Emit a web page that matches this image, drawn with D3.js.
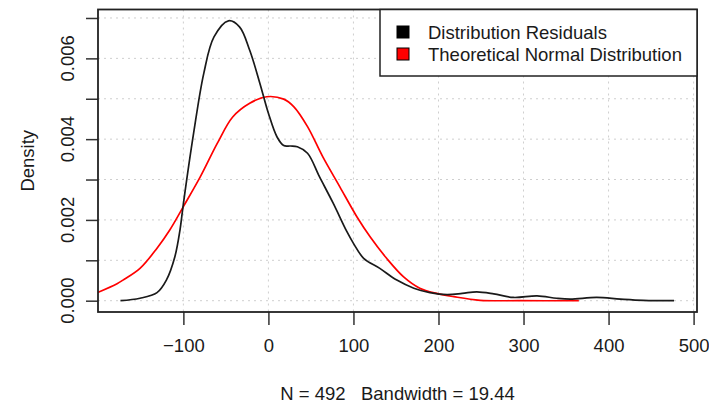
<!DOCTYPE html>
<html>
<head>
<meta charset="utf-8">
<script src="https://cdn.jsdelivr.net/npm/d3@7"></script>
<style>
  body { margin: 0; background: #fff; }
  text { font-family: "Liberation Sans", Arial, sans-serif; fill: #1a1a1a; }
</style>
</head>
<body>
<div id="viz"></div>
<script>
const width = 709;
const height = 409;

// density of residuals
const residX = [-174, -151, -131, -120, -110, -104, -100, -88, -76, -64, -47, -34, -22, -10, 0, 10, 18, 26, 34, 46, 60, 76, 92, 100, 112, 131, 151, 171, 190, 210, 228, 245, 265, 288, 316, 339, 355, 386, 414, 441, 477];
const residY = [0, 0.00006, 0.0002, 0.00051, 0.00109, 0.00175, 0.0024, 0.00414, 0.00563, 0.00653, 0.00693, 0.00678, 0.0062, 0.00538, 0.00464, 0.00406, 0.00384, 0.00383, 0.00381, 0.00365, 0.00307, 0.00242, 0.00172, 0.00142, 0.00105, 0.0008, 0.00051, 0.00031, 0.0002, 0.00015, 0.00018, 0.00022, 0.00017, 0.00008, 0.00012, 0.00006, 0.00004, 0.00008, 0.00004, 0.00001, 0];

// theoretical normal density
const normX = [-201, -178, -171, -151, -131, -116, -100, -80, -60, -42, -22, -2, 18, 30, 46, 64, 84, 104, 120, 139, 159, 178, 198, 218, 249, 296, 365];
const normY = [0.0002, 0.00042, 0.00051, 0.0008, 0.0013, 0.00175, 0.00233, 0.00307, 0.0039, 0.00455, 0.00489, 0.00505, 0.00499, 0.0048, 0.00431, 0.00356, 0.00282, 0.00208, 0.00157, 0.00105, 0.00059, 0.00031, 0.00018, 0.0001, 0.00001, 0, 0];

const xTicks = [-100, 0, 100, 200, 300, 400, 500];
const yTicks = [0, 0.001, 0.002, 0.003, 0.004, 0.005, 0.006, 0.007];
const yLabels = [0, 0.002, 0.004, 0.006];

const legendItems = ["Distribution Residuals", "Theoretical Normal Distribution"];
const legendColors = ["#000000", "#ff0000"];

const plot = { left: 98, right: 697, top: 9.5, bottom: 312 };

const svg = d3.select("#viz")
  .append("svg")
  .attr("width", width)
  .attr("height", height);

const x = d3.scaleLinear()
  .domain([-200.4, 504])
  .range([plot.left, plot.right]);

const y = d3.scaleLinear()
  .domain([-0.00028, 0.00721])
  .range([plot.bottom, plot.top]);

// grid
const grid = svg.append("g")
  .attr("stroke", "#cfcfcf")
  .attr("stroke-width", 1)
  .attr("stroke-dasharray", "2,4");

grid.selectAll("line.v")
  .data(xTicks)
  .join("line")
  .attr("x1", d => x(d)).attr("x2", d => x(d))
  .attr("y1", plot.top).attr("y2", plot.bottom);

grid.selectAll("line.h")
  .data(yTicks)
  .join("line")
  .attr("x1", plot.left).attr("x2", plot.right)
  .attr("y1", d => y(d)).attr("y2", d => y(d));

// curves
svg.append("clipPath")
  .attr("id", "clip")
  .append("rect")
  .attr("x", plot.left).attr("y", plot.top)
  .attr("width", plot.right - plot.left)
  .attr("height", plot.bottom - plot.top);

const line = d3.line()
  .x(d => x(d[0]))
  .y(d => y(d[1]))
  .curve(d3.curveCatmullRom.alpha(0.5));

svg.append("path")
  .datum(d3.zip(normX, normY))
  .attr("clip-path", "url(#clip)")
  .attr("d", line)
  .attr("fill", "none")
  .attr("stroke", "#ff0000")
  .attr("stroke-width", 1.7);

svg.append("path")
  .datum(d3.zip(residX, residY))
  .attr("clip-path", "url(#clip)")
  .attr("d", line)
  .attr("fill", "none")
  .attr("stroke", "#1a1a1a")
  .attr("stroke-width", 1.7);

// axes
const xAxis = svg.append("g")
  .attr("transform", `translate(0,${plot.bottom})`)
  .call(d3.axisBottom(x).tickValues(xTicks).tickSize(13).tickPadding(14)
    .tickFormat(d => d < 0 ? "\u2212" + Math.abs(d) : d));
xAxis.select(".domain").remove();
xAxis.selectAll("line").attr("stroke", "#333").attr("stroke-width", 1.5);
xAxis.selectAll("text")
  .attr("font-size", "18.5px")
  .attr("font-family", "Liberation Sans, Arial, sans-serif")
  .attr("fill", "#1a1a1a");

const yAxis = svg.append("g")
  .attr("transform", `translate(${plot.left},0)`)
  .call(d3.axisLeft(y).tickValues(yTicks).tickSize(12).tickFormat(""));
yAxis.select(".domain").remove();
yAxis.selectAll("line").attr("stroke", "#333").attr("stroke-width", 1.5);

svg.append("g")
  .selectAll("text")
  .data(yLabels)
  .join("text")
  .attr("transform", d => `translate(74,${y(d)}) rotate(-90)`)
  .attr("text-anchor", "middle")
  .attr("font-size", "18.5px")
  .text(d => d3.format(".3f")(d));

// box
svg.append("rect")
  .attr("x", plot.left).attr("y", plot.top)
  .attr("width", plot.right - plot.left)
  .attr("height", plot.bottom - plot.top)
  .attr("fill", "none")
  .attr("stroke", "#222")
  .attr("stroke-width", 1.8);

// axis titles
svg.append("text")
  .attr("transform", `translate(34,${(plot.top + plot.bottom) / 2}) rotate(-90)`)
  .attr("text-anchor", "middle")
  .attr("font-size", "18.5px")
  .text("Density");

svg.append("text")
  .attr("x", (plot.left + plot.right) / 2)
  .attr("y", 400)
  .attr("text-anchor", "middle")
  .attr("font-size", "18.5px")
  .attr("xml:space", "preserve")
  .style("white-space", "pre")
  .text("N = 492   Bandwidth = 19.44");

// legend
const legend = svg.append("g");
legend.append("rect")
  .attr("x", 380).attr("y", plot.top)
  .attr("width", plot.right - 380)
  .attr("height", 76 - plot.top)
  .attr("fill", "#fff")
  .attr("stroke", "#222")
  .attr("stroke-width", 1.5);

legendItems.forEach((name, i) => {
  const cy = 32 + i * 22;
  legend.append("rect")
    .attr("x", 397).attr("y", cy - 6)
    .attr("width", 12).attr("height", 12)
    .attr("fill", legendColors[i])
    .attr("stroke", "#000")
    .attr("stroke-width", 1);
  legend.append("text")
    .attr("x", 428).attr("y", cy + 6.5)
    .attr("font-size", "18.5px")
    .text(name);
});
</script>
</body>
</html>
